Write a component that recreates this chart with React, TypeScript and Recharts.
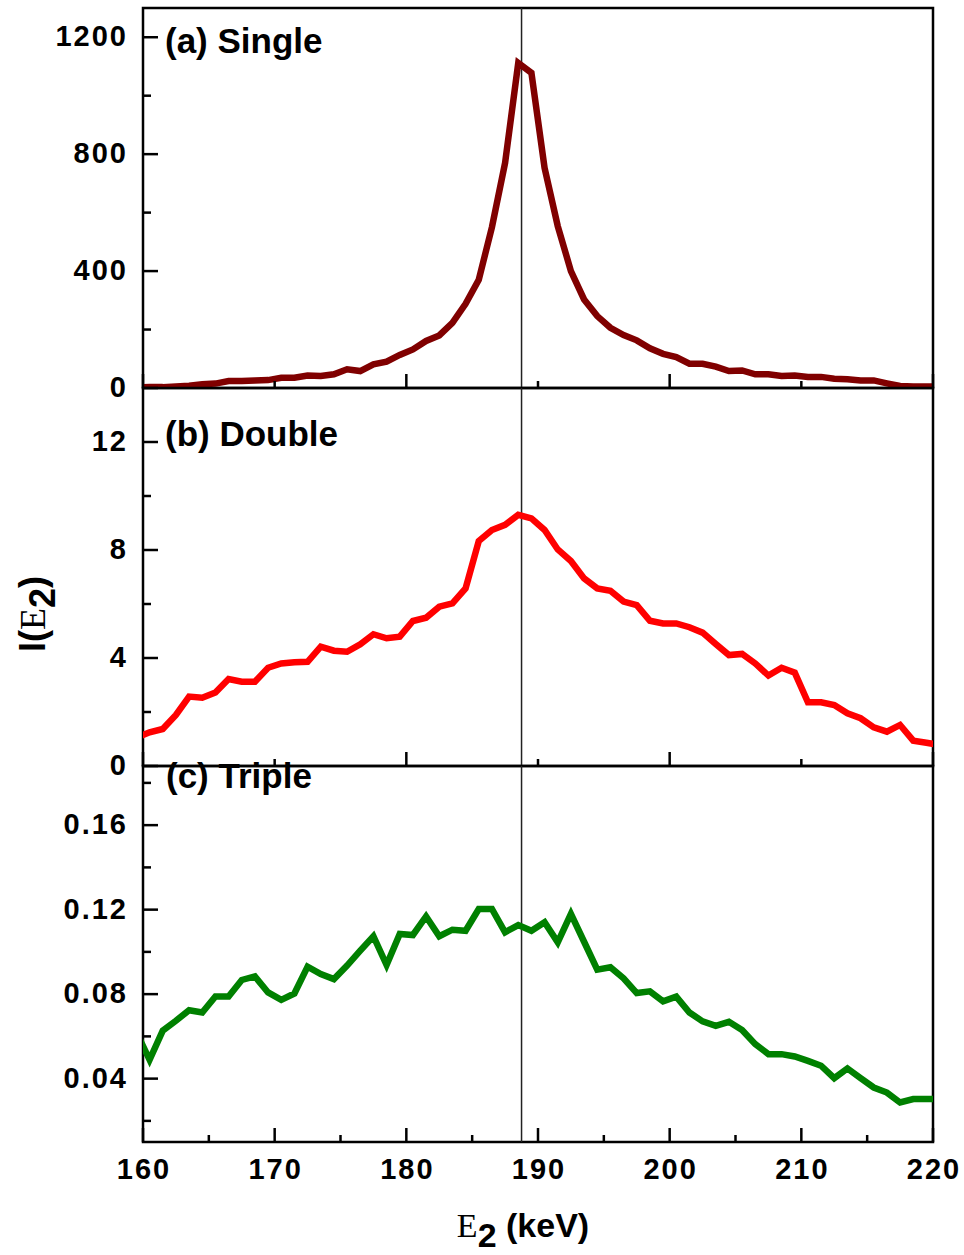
import { LineChart, Line, XAxis, YAxis, ReferenceLine, ReferenceArea } from 'recharts';

// E2 grid (keV), one channel per keV; the end points sit just outside the frame and get clipped
const energies = [
  159.5, 160.5, 161.5, 162.5, 163.5, 164.5, 165.5, 166.5, 167.5, 168.5, 169.5,
  170.5, 171.5, 172.5, 173.5, 174.5, 175.5, 176.5, 177.5, 178.5, 179.5,
  180.5, 181.5, 182.5, 183.5, 184.5, 185.5, 186.5, 187.5, 188.5, 189.5,
  190.5, 191.5, 192.5, 193.5, 194.5, 195.5, 196.5, 197.5, 198.5, 199.5,
  200.5, 201.5, 202.5, 203.5, 204.5, 205.5, 206.5, 207.5, 208.5, 209.5,
  210.5, 211.5, 212.5, 213.5, 214.5, 215.5, 216.5, 217.5, 218.5, 219.5, 220.5,
];

const singleI = [
  2, 3, 3, 5, 8, 13, 15, 24, 24, 26, 27,
  35, 35, 43, 41, 47, 64, 58, 81, 90, 113,
  132, 161, 180, 223, 288, 370, 550, 770, 1112, 1078,
  753, 554, 400, 303, 246, 206, 181, 163, 136, 117,
  106, 83, 83, 73, 58, 60, 47, 47, 41, 43,
  38, 38, 32, 30, 26, 26, 16, 7, 5, 5, 5,
];

const doubleI = [
  1.05, 1.25, 1.37, 1.89, 2.57, 2.53, 2.72, 3.22, 3.12, 3.12, 3.64,
  3.8, 3.84, 3.86, 4.42, 4.27, 4.23, 4.51, 4.88, 4.73, 4.79,
  5.37, 5.49, 5.9, 6.02, 6.58, 8.33, 8.74, 8.93, 9.3, 9.17,
  8.74, 8.02, 7.59, 6.95, 6.58, 6.49, 6.09, 5.96, 5.38, 5.28,
  5.28, 5.14, 4.94, 4.52, 4.11, 4.15, 3.8, 3.35, 3.64, 3.46,
  2.36, 2.36, 2.26, 1.95, 1.77, 1.43, 1.27, 1.52, 0.94, 0.86, 0.78,
];

const tripleI = [
  0.062, 0.0489, 0.0627, 0.0674, 0.0724, 0.0713, 0.0789, 0.0789, 0.0867, 0.0884, 0.0808,
  0.0773, 0.0803, 0.093, 0.0895, 0.0871, 0.0935, 0.1006, 0.1074, 0.0938, 0.1085,
  0.108, 0.1168, 0.1074, 0.1105, 0.11, 0.1203, 0.1203, 0.1093, 0.1127, 0.11,
  0.114, 0.1045, 0.118, 0.1048, 0.0916, 0.0927, 0.0875, 0.0805, 0.0813, 0.0766,
  0.0788, 0.0713, 0.0671, 0.065, 0.0669, 0.063, 0.0563, 0.0516, 0.0516, 0.0505,
  0.0484, 0.0461, 0.0402, 0.0448, 0.0402, 0.0358, 0.0334, 0.0287, 0.0303, 0.0303, 0.0303,
];

const xTicksCoarse = [160, 170, 180, 190, 200, 210, 220];
const xTicksFine = [160, 165, 170, 175, 180, 185, 190, 195, 200, 205, 210, 215, 220];
const singleTicks = [0, 200, 400, 600, 800, 1000, 1200];
const doubleTicks = [0, 2, 4, 6, 8, 10, 12];
const tripleTicks = [0.02, 0.04, 0.06, 0.08, 0.1, 0.12, 0.14, 0.16, 0.18];

const peakE = 188.75;

const rows = energies.map((e, i) => ({
  e,
  single: singleI[i],
  double: doubleI[i],
  triple: tripleI[i],
}));

const SANS = '"Liberation Sans", Arial, sans-serif';
const SERIF = '"Liberation Serif", "Times New Roman", serif';

type PanelProps = {
  top: number;
  plotHeight: number;
  dataKey: string;
  color: string;
  domain: [number, number];
  yTicks: number[];
  yLabelled: (i: number) => boolean;
  yFormat: (v: number) => string;
  xTicks: number[];
  xLong: (v: number) => boolean;
  showXLabels: boolean;
  xAxisHeight: number;
};

const Panel = (p: PanelProps) => {
  const mTop = 20;

  const xTick = (props: any) => {
    const { x, y, payload } = props;
    const v = payload.value;
    const len = p.xLong(v) ? 14 : 7;
    return (
      <g>
        <line x1={x} x2={x} y1={y} y2={y - len} stroke="#000" strokeWidth={2.5} />
        {p.showXLabels && v % 10 === 0 && (
          <text x={x + 1} y={y + 37} textAnchor="middle" fontFamily={SANS} fontWeight="bold"
            fontSize={29} letterSpacing={2} fill="#000">
            {v}
          </text>
        )}
      </g>
    );
  };

  const yTick = (props: any) => {
    const { x, y, payload, index } = props;
    const labelled = p.yLabelled(index);
    return (
      <g>
        <line x1={x} x2={x + (labelled ? 15 : 8)} y1={y} y2={y} stroke="#000" strokeWidth={2.5} />
        {labelled && (
          <text x={x - 15} y={y + 9} textAnchor="end" fontFamily={SANS} fontWeight="bold"
            fontSize={29} letterSpacing={2} fill="#000">
            {p.yFormat(payload.value)}
          </text>
        )}
      </g>
    );
  };

  return (
    <div style={{ position: 'absolute', left: 0, top: p.top - mTop }}>
      <LineChart
        width={964}
        height={mTop + p.plotHeight + p.xAxisHeight}
        data={rows}
        margin={{ top: mTop, right: 31, bottom: 0, left: 0 }}
      >
        <XAxis
          dataKey="e"
          type="number"
          domain={[160, 220]}
          allowDataOverflow
          ticks={p.xTicks}
          interval={0}
          tick={xTick}
          tickSize={0}
          tickMargin={0}
          tickLine={false}
          axisLine={false}
          height={p.xAxisHeight}
        />
        <YAxis
          type="number"
          domain={p.domain}
          allowDataOverflow
          ticks={p.yTicks}
          interval={0}
          tick={yTick}
          tickSize={0}
          tickMargin={0}
          tickLine={false}
          axisLine={false}
          width={143}
        />
        <ReferenceArea
          x1={160}
          x2={220}
          y1={p.domain[0]}
          y2={p.domain[1]}
          fill="none"
          stroke="#000"
          strokeWidth={2.5}
          ifOverflow="visible"
        />
        <ReferenceLine x={peakE} stroke="#222" strokeWidth={1.5} />
        <Line
          type="linear"
          dataKey={p.dataKey}
          stroke={p.color}
          strokeWidth={6.5}
          dot={false}
          isAnimationActive={false}
        />
      </LineChart>
    </div>
  );
};

const App = () => {
  return (
    <div style={{ position: 'absolute', left: 0, top: 0, width: 964, height: 1255, background: '#fff' }}>
      <Panel
        top={8}
        plotHeight={380}
        dataKey="single"
        color="#800000"
        domain={[0, 1300]}
        yTicks={singleTicks}
        yLabelled={(i) => i % 2 === 0}
        yFormat={(v) => String(v)}
        xTicks={xTicksCoarse}
        xLong={(v) => (v - 160) % 20 === 0}
        showXLabels={false}
        xAxisHeight={40}
      />
      <Panel
        top={388}
        plotHeight={378}
        dataKey="double"
        color="#ff0000"
        domain={[0, 14]}
        yTicks={doubleTicks}
        yLabelled={(i) => i % 2 === 0}
        yFormat={(v) => String(v)}
        xTicks={xTicksCoarse}
        xLong={(v) => (v - 160) % 20 === 0}
        showXLabels={false}
        xAxisHeight={40}
      />
      <Panel
        top={766}
        plotHeight={376}
        dataKey="triple"
        color="#008000"
        domain={[0.01, 0.188]}
        yTicks={tripleTicks}
        yLabelled={(i) => i % 2 === 1}
        yFormat={(v) => v.toFixed(2)}
        xTicks={xTicksFine}
        xLong={(v) => v % 10 === 0}
        showXLabels={true}
        xAxisHeight={80}
      />
      <svg
        width={964}
        height={1255}
        style={{ position: 'absolute', left: 0, top: 0, pointerEvents: 'none' }}
      >
        <g fontFamily={SANS} fontWeight="bold" fontSize={35} fill="#000">
          <text x={165} y={53}>(a) Single</text>
          <text x={165} y={446}>(b) Double</text>
          <text x={166} y={788}>(c) Triple</text>
        </g>
        <text x={523} y={1237} textAnchor="middle" fontFamily={SANS} fontWeight="bold" fontSize={34} fill="#000">
          <tspan fontFamily={SERIF} fontWeight="normal">E</tspan>
          <tspan dy={10}>2</tspan>
          <tspan dy={-10}> (keV)</tspan>
        </text>
        <text
          transform="translate(45,614) rotate(-90)"
          textAnchor="middle"
          fontFamily={SANS}
          fontWeight="bold"
          fontSize={36}
          fill="#000"
        >
          I(<tspan fontFamily={SERIF} fontWeight="normal">E</tspan>
          <tspan dy={10}>2</tspan>
          <tspan dy={-10}>)</tspan>
        </text>
      </svg>
    </div>
  );
};

export default App;
